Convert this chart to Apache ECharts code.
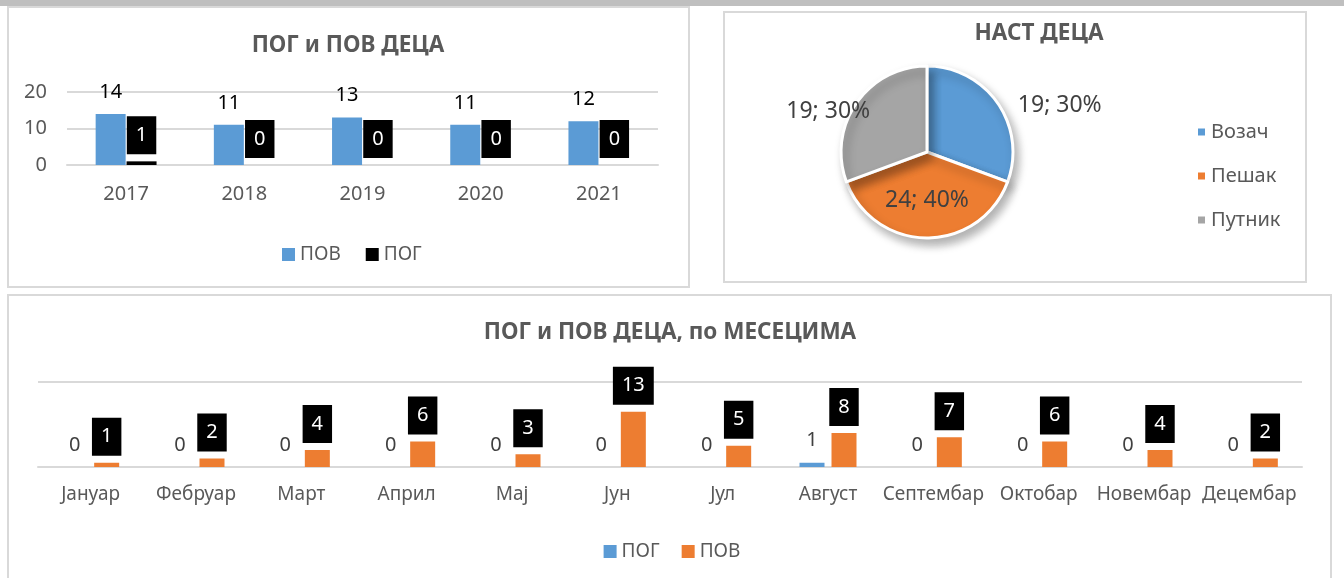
<!DOCTYPE html>
<html>
<head>
<meta charset="utf-8">
<script src="https://cdn.jsdelivr.net/npm/echarts@6/dist/echarts.min.js"></script>
<style>
  html, body { margin: 0; padding: 0; background: #fff; }
  #box { width: 1344px; height: 578px; }
</style>
</head>
<body>
<div id="box"></div>
<script>
// подаци
const years = ['2017', '2018', '2019', '2020', '2021']
const povYears = [14, 11, 13, 11, 12]
const pogYears = [1, 0, 0, 0, 0]

const pieNames = ['Возач', 'Пешак', 'Путник']
const pieValues = [19, 24, 19]
const piePct = [30, 40, 30]

const months = ['Јануар', 'Фебруар', 'Март', 'Април', 'Мај', 'Јун', 'Јул', 'Август', 'Септембар', 'Октобар', 'Новембар', 'Децембар']
const pogMonths = [0, 0, 0, 0, 0, 0, 0, 1, 0, 0, 0, 0]
const povMonths = [1, 2, 4, 6, 3, 13, 5, 8, 7, 6, 4, 2]

const font = "'Noto Sans', sans-serif"
const blue = '#5B9BD5'
const orange = '#ED7D31'
const gray = '#A5A5A5'
const txt = '#595959'
const gridColor = '#d9d9d9'

// where the pie labels sit, relative to the middle of each slice
const pieLabelOffset = [[95, -20], [0, 2], [-61, -14]]

const myChart = echarts.init(document.getElementById('box'))

const boxLabel = {
  show: true,
  position: 'top',
  distance: 7,
  color: '#fff',
  backgroundColor: '#000',
  padding: [7, 9],
  fontSize: 20,
  lineHeight: 24,
  fontFamily: font
}

const titleStyle = { fontFamily: font, fontSize: 22.5, fontWeight: 'bold', fill: txt, align: 'center', verticalAlign: 'middle' }

const option = {
  animation: false,
  textStyle: { fontFamily: font },
  graphic: [
    { type: 'rect', silent: true, shape: { x: 0, y: 0, width: 1344, height: 6 }, style: { fill: '#bfbfbf' } },
    { type: 'rect', silent: true, shape: { x: 8, y: 7, width: 681, height: 280 }, style: { fill: 'none', stroke: gridColor, lineWidth: 2 } },
    { type: 'rect', silent: true, shape: { x: 724, y: 12, width: 582, height: 270 }, style: { fill: 'none', stroke: gridColor, lineWidth: 2 } },
    { type: 'rect', silent: true, shape: { x: 8, y: 295, width: 1323, height: 300 }, style: { fill: 'none', stroke: gridColor, lineWidth: 2 } },
    { type: 'text', x: 348, y: 46, style: Object.assign({ text: 'ПОГ и ПОВ ДЕЦА' }, titleStyle) },
    { type: 'text', x: 1039, y: 34, style: Object.assign({ text: 'НАСТ ДЕЦА' }, titleStyle) },
    { type: 'text', x: 670, y: 333, style: Object.assign({ text: 'ПОГ и ПОВ ДЕЦА, по МЕСЕЦИМА' }, titleStyle) }
  ],
  legend: [
    {
      left: 277, top: 240, itemWidth: 13, itemHeight: 13, itemGap: 25, icon: 'rect',
      textStyle: { color: txt, fontSize: 19 },
      data: [{ name: 'ПОВ', itemStyle: { color: blue } }, { name: 'ПОГ', itemStyle: { color: '#000' } }]
    },
    {
      orient: 'vertical', left: 1191, top: 117, itemWidth: 9, itemHeight: 9, itemGap: 24, icon: 'rect',
      textStyle: { color: txt, fontSize: 20 },
      data: pieNames
    },
    {
      left: 'center', top: 537, itemWidth: 13, itemHeight: 13, itemGap: 22, icon: 'rect',
      textStyle: { color: txt, fontSize: 19 },
      data: [{ name: 'ПОГ', itemStyle: { color: blue } }, { name: 'ПОВ', itemStyle: { color: orange } }]
    }
  ],
  grid: [
    { left: 67, top: 92, width: 591, height: 73 },
    { left: 38, top: 382, width: 1264, height: 85 }
  ],
  xAxis: [
    {
      gridIndex: 0, type: 'category', data: years,
      axisLine: { lineStyle: { color: gridColor, width: 2 } }, axisTick: { show: false },
      axisLabel: { color: txt, fontSize: 20, margin: 19 }
    },
    {
      gridIndex: 1, type: 'category', data: months,
      axisLine: { lineStyle: { color: gridColor, width: 2 } }, axisTick: { show: false },
      axisLabel: { color: txt, fontSize: 19, margin: 18, interval: 0 }
    }
  ],
  yAxis: [
    {
      gridIndex: 0, type: 'value', min: 0, max: 20, interval: 10,
      axisLine: { show: false }, axisTick: { show: false },
      axisLabel: { color: txt, fontSize: 20, margin: 20 },
      splitLine: { lineStyle: { color: gridColor, width: 2 } }
    },
    {
      gridIndex: 1, type: 'value', min: 0, max: 20, interval: 20,
      axisLine: { show: false }, axisTick: { show: false },
      axisLabel: { show: false },
      splitLine: { lineStyle: { color: gridColor, width: 2 } }
    }
  ],
  series: [
    {
      name: 'ПОВ', type: 'bar', xAxisIndex: 0, yAxisIndex: 0,
      data: povYears, barWidth: 30, barGap: '3%',
      itemStyle: { color: blue },
      label: { show: true, position: 'top', distance: 12, color: '#000', fontSize: 20 }
    },
    {
      name: 'ПОГ', type: 'bar', xAxisIndex: 0, yAxisIndex: 0,
      data: pogYears, barWidth: 30,
      itemStyle: { color: '#000' },
      label: boxLabel
    },
    {
      name: 'НАСТ ДЕЦА', type: 'pie', center: [927, 152], radius: 86,
      startAngle: 90, clockwise: true,
      color: [blue, orange, gray],
      itemStyle: { borderColor: '#fff', borderWidth: 3, shadowBlur: 10, shadowOffsetX: 4, shadowOffsetY: 6, shadowColor: 'rgba(0,0,0,0.3)' },
      labelLine: { show: false },
      label: {
        show: true, position: 'inside', color: '#404040', fontSize: 23,
        formatter: p => p.value + '; ' + piePct[p.dataIndex] + '%'
      },
      data: pieNames.map((n, i) => ({ name: n, value: pieValues[i], label: { offset: pieLabelOffset[i] } }))
    },
    {
      name: 'ПОГ', type: 'bar', xAxisIndex: 1, yAxisIndex: 1,
      data: pogMonths, barWidth: 25, barGap: '28%',
      itemStyle: { color: blue },
      label: { show: true, position: 'top', distance: 12, color: '#404040', fontSize: 20 }
    },
    {
      name: 'ПОВ', type: 'bar', xAxisIndex: 1, yAxisIndex: 1,
      data: povMonths, barWidth: 25,
      itemStyle: { color: orange },
      label: boxLabel
    }
  ]
}

myChart.setOption(option)
window.onresize = function () {
  myChart.resize()
}
</script>
</body>
</html>
